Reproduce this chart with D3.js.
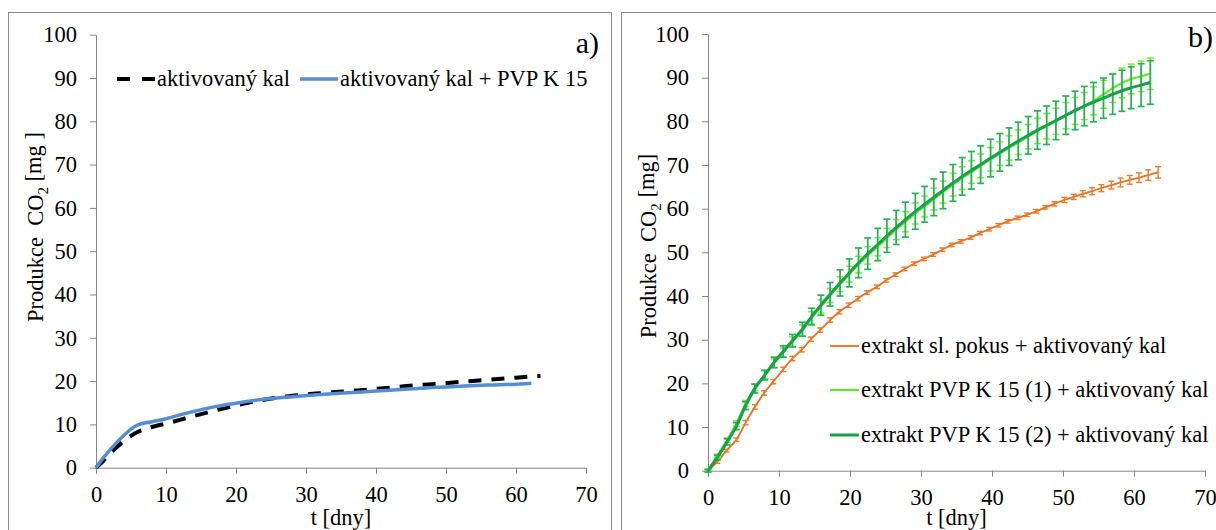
<!DOCTYPE html>
<html>
<head>
<title>Produkce CO2</title>
<script src="https://d3js.org/d3.v7.min.js"></script>
<style>
body {margin:0; background:#fff;}
svg text {font-family:"Liberation Serif","Times New Roman",serif; fill:#000;}
.axis path, .axis line {stroke:#868686; stroke-width:1;}
.axis text {font-size:22.5px; font-family:"Liberation Serif",serif;}
</style>
</head>
<body>
<svg id="chart" width="1216" height="530"></svg>
<script>
// panel a) - aktivovaný kal
var daysKal = [0, 1, 2, 3, 4, 6, 8, 10, 13, 16, 20, 24, 28, 32, 36, 40, 44, 48, 52, 56, 60, 63.5];
var kal     = [0, 1.5, 3.2, 4.8, 6.2, 8.3, 9.4, 10.2, 11.5, 12.8, 14.4, 15.7, 16.6, 17.2, 17.7, 18.2, 18.8, 19.3, 19.8, 20.3, 20.8, 21.2];
var daysKalPvp = [0, 1, 2, 3, 4, 5, 6, 8, 10, 12, 14, 17, 20, 24, 28, 32, 36, 40, 44, 48, 52, 56, 60, 62.2];
var kalPvp     = [0, 2.2, 4.1, 5.9, 7.5, 8.9, 9.9, 10.6, 11.3, 12.2, 13.0, 14.1, 14.9, 15.8, 16.4, 16.9, 17.3, 17.7, 18.1, 18.5, 18.8, 19.1, 19.3, 19.5];

// panel b) - extrakty
var daysPvp = [0, 1.3, 2.7, 4.0, 5.3, 6.6, 8.0, 9.3, 10.6, 11.9, 13.3, 14.6, 15.9, 17.2, 18.6, 19.9, 21.2, 22.5, 23.9, 25.2,
               26.5, 27.8, 29.2, 30.5, 31.8, 33.1, 34.5, 35.8, 37.1, 38.4, 39.8, 41.1, 42.4, 43.7, 45.1, 46.4, 47.7, 49.0, 50.4, 51.7,
               53.0, 54.3, 55.7, 57.0, 58.3, 59.6, 61.0, 62.3];
var pvp1    = [0, 3.4, 7.0, 10.8, 15.4, 19.1, 22.0, 24.6, 27.0, 29.5, 32.1, 35.0, 37.6, 40.1, 42.7, 45.0, 47.2, 49.3, 51.3, 53.3,
               55.2, 57.0, 58.9, 60.5, 62.2, 63.8, 65.5, 67.0, 68.4, 69.8, 71.3, 72.6, 73.9, 75.2, 76.5, 77.8, 78.9, 80.0, 81.3, 82.4,
               83.5, 84.7, 86.2, 87.6, 88.8, 89.7, 90.3, 90.9];
var pvp1Err = [0.3, 0.4, 0.5, 0.6, 0.7, 0.8, 0.9, 1.0, 1.1, 1.2, 1.3, 1.4, 1.5, 1.6, 1.7, 1.8, 1.9, 2.0, 2.1, 2.2,
               2.3, 2.3, 2.4, 2.4, 2.5, 2.5, 2.6, 2.6, 2.6, 2.7, 2.7, 2.7, 2.8, 2.8, 2.8, 2.9, 2.9, 3.0, 3.0, 3.1,
               3.1, 3.2, 3.2, 3.3, 3.4, 3.4, 3.5, 3.6];
var pvp2    = [0, 3.0, 6.6, 10.2, 14.9, 18.8, 21.9, 24.8, 27.3, 29.8, 32.4, 35.3, 37.9, 40.4, 43.0, 45.3, 47.6, 49.7, 51.8, 53.8,
               55.7, 57.5, 59.4, 61.0, 62.6, 64.2, 65.9, 67.4, 68.8, 70.1, 71.6, 72.9, 74.2, 75.5, 76.8, 78.0, 79.1, 80.2, 81.4, 82.5,
               83.5, 84.4, 85.3, 86.2, 87.0, 87.7, 88.3, 88.9];
var pvp2Err = [0.3, 0.5, 0.7, 0.8, 0.9, 1.0, 1.1, 1.2, 1.3, 1.4, 1.6, 1.9, 2.3, 2.7, 3.0, 3.2, 3.4, 3.6, 3.7, 3.8,
               3.9, 4.0, 4.1, 4.1, 4.2, 4.2, 4.2, 4.3, 4.3, 4.3, 4.3, 4.3, 4.3, 4.3, 4.3, 4.4, 4.4, 4.4, 4.4, 4.4,
               4.5, 4.5, 4.6, 4.6, 4.7, 4.8, 4.9, 5.0];
var daysPokus = [0, 1.3, 2.6, 4.0, 5.3, 6.6, 7.9, 9.2, 10.6, 11.9, 13.2, 14.5, 15.8, 17.2, 18.5, 19.8, 21.1, 22.4, 23.8, 25.1,
                 26.4, 27.7, 29.0, 30.4, 31.7, 33.0, 34.3, 35.6, 37.0, 38.3, 39.6, 40.9, 42.2, 43.6, 44.9, 46.2, 47.5, 48.8, 50.2, 51.5,
                 52.8, 54.1, 55.4, 56.8, 58.1, 59.4, 60.7, 62.0, 63.4];
var pokus     = [0, 2.0, 4.6, 7.1, 11.0, 14.6, 17.8, 20.4, 23.2, 25.7, 27.7, 30.1, 32.2, 34.5, 36.4, 37.9, 39.4, 40.8, 42.1, 43.6,
                 44.9, 46.2, 47.4, 48.5, 49.5, 50.6, 51.7, 52.5, 53.4, 54.4, 55.3, 56.2, 57.1, 57.9, 58.6, 59.4, 60.3, 61.1, 62.0, 62.7,
                 63.4, 64.0, 64.7, 65.4, 66.0, 66.6, 67.1, 67.7, 68.3];
var pokusErr  = [0.2, 0.3, 0.3, 0.4, 0.5, 0.5, 0.5, 0.5, 0.5, 0.5, 0.5, 0.5, 0.5, 0.5, 0.5, 0.5, 0.5, 0.4, 0.4, 0.4,
                 0.4, 0.4, 0.4, 0.4, 0.4, 0.4, 0.4, 0.4, 0.4, 0.4, 0.4, 0.4, 0.4, 0.4, 0.4, 0.4, 0.4, 0.5, 0.6, 0.6,
                 0.7, 0.8, 0.8, 0.9, 1.0, 1.0, 1.1, 1.2, 1.3];

var xTicks = [0, 10, 20, 30, 40, 50, 60, 70];
var yTicks = [0, 10, 20, 30, 40, 50, 60, 70, 80, 90, 100];

var FONT = "'Liberation Serif', 'Times New Roman', serif";
var svg = d3.select("#chart");

// panel frames
svg.append("rect").attr("x", 8.5).attr("y", 12.5).attr("width", 603).attr("height", 540)
   .attr("fill", "none").attr("stroke", "#8c8c8c");
svg.append("rect").attr("x", 621.5).attr("y", 12.5).attr("width", 620).attr("height", 540)
   .attr("fill", "none").attr("stroke", "#8c8c8c");

function makeAxes(x0, x1, y0, y1, labelX, labelY, yTitle) {
    var x = d3.scaleLinear([0, 70], [x0, x1]);
    var y = d3.scaleLinear([0, 100], [y0, y1]);

    svg.append("g").attr("class", "axis")
        .attr("transform", "translate(0," + y0 + ")")
        .call(d3.axisBottom(x).tickValues(xTicks).tickSize(6).tickSizeOuter(0).tickPadding(12))
        .attr("font-family", FONT).attr("font-size", 22.5);
    svg.append("g").attr("class", "axis")
        .attr("transform", "translate(" + x0 + ",0)")
        .call(d3.axisLeft(y).tickValues(yTicks).tickSize(6).tickSizeOuter(0).tickPadding(13))
        .attr("font-family", FONT).attr("font-size", 22.5);

    svg.append("text").attr("x", (x0 + x1) / 2).attr("y", 525)
        .attr("text-anchor", "middle").attr("font-family", FONT).style("font-size", "22.5px").text("t [dny]");

    var t = svg.append("text")
        .attr("transform", "translate(" + labelX + "," + labelY + ") rotate(-90)")
        .attr("text-anchor", "middle").attr("dy", "0.32em").attr("font-family", FONT)
        .style("font-size", "22.5px").style("white-space", "pre");
    t.append("tspan").text("Produkce  CO");
    t.append("tspan").attr("dy", "0.3em").style("font-size", "15px").text("2");
    t.append("tspan").attr("dy", "-0.3em").text(yTitle);
    return {x: x, y: y};
}

function drawLine(s, days, vals, color, width, dash) {
    var pts = days.map((d, i) => [d, vals[i]]);
    var p = svg.append("path")
        .attr("d", d3.line().x(d => s.x(d[0])).y(d => s.y(d[1])).curve(d3.curveMonotoneX)(pts))
        .attr("fill", "none").attr("stroke", color).attr("stroke-width", width)
        .attr("stroke-linejoin", "round");
    if (dash) p.attr("stroke-dasharray", dash);
}

function drawErr(s, days, vals, errs, color, width, cap) {
    var g = svg.append("g").attr("stroke", color).attr("stroke-width", width);
    days.forEach(function(d, i) {
        var cx = s.x(d), lo = s.y(vals[i] - errs[i]), hi = s.y(vals[i] + errs[i]);
        g.append("line").attr("x1", cx).attr("x2", cx).attr("y1", lo).attr("y2", hi);
        g.append("line").attr("x1", cx - cap).attr("x2", cx + cap).attr("y1", lo).attr("y2", lo);
        g.append("line").attr("x1", cx - cap).attr("x2", cx + cap).attr("y1", hi).attr("y2", hi);
    });
}

// ----- panel a
var a = makeAxes(96, 586, 467.7, 34.7, 36, 227, " [mg ]");
drawLine(a, daysKal, kal, "#000", 4, "13,10");
drawLine(a, daysKalPvp, kalPvp, "#558ed5", 3.5);

svg.append("text").attr("x", 599).attr("y", 53).attr("text-anchor", "end").attr("font-family", FONT)
    .style("font-size", "30px").text("a)");

var legA = [
    {x: 117, text: "aktivovaný kal", color: "#000", w: 4, dash: "13,12"},
    {x: 300, text: "aktivovaný kal + PVP K 15", color: "#558ed5", w: 3.5, dash: null}
];
legA.forEach(function(l) {
    var ln = svg.append("line").attr("x1", l.x).attr("x2", l.x + 38).attr("y1", 79).attr("y2", 79)
        .attr("stroke", l.color).attr("stroke-width", l.w);
    if (l.dash) ln.attr("stroke-dasharray", l.dash);
    svg.append("text").attr("x", l.x + 40).attr("y", 79).attr("dy", "0.32em").attr("font-family", FONT)
        .style("font-size", "22.5px").text(l.text);
});

// ----- panel b
var b = makeAxes(708, 1205, 470.7, 34, 649, 246, " [mg]");
drawLine(b, daysPokus, pokus, "#e8711d", 1.8);
drawErr(b, daysPokus, pokus, pokusErr, "#ec7a2a", 1.4, 3);
drawErr(b, daysPvp, pvp1, pvp1Err, "#74ee3c", 1.5, 3.5);
drawLine(b, daysPvp, pvp1, "#5de82a", 2.2);
drawErr(b, daysPvp, pvp2, pvp2Err, "#24b356", 1.7, 3.5);
drawLine(b, daysPvp, pvp2, "#17a24a", 3);

svg.append("text").attr("x", 1213).attr("y", 47).attr("text-anchor", "end").attr("font-family", FONT)
    .style("font-size", "30px").text("b)");

var legB = [
    {y: 346, text: "extrakt sl. pokus + aktivovaný kal", color: "#e8711d", w: 1.8},
    {y: 390, text: "extrakt PVP K 15 (1) + aktivovaný kal", color: "#5de82a", w: 2.2},
    {y: 435, text: "extrakt PVP K 15 (2) + aktivovaný kal", color: "#17a24a", w: 3}
];
legB.forEach(function(l) {
    svg.append("line").attr("x1", 830).attr("x2", 859).attr("y1", l.y).attr("y2", l.y)
        .attr("stroke", l.color).attr("stroke-width", l.w);
    svg.append("text").attr("x", 861).attr("y", l.y).attr("dy", "0.32em").attr("font-family", FONT)
        .style("font-size", "22.5px").text(l.text);
});
</script>
</body>
</html>
